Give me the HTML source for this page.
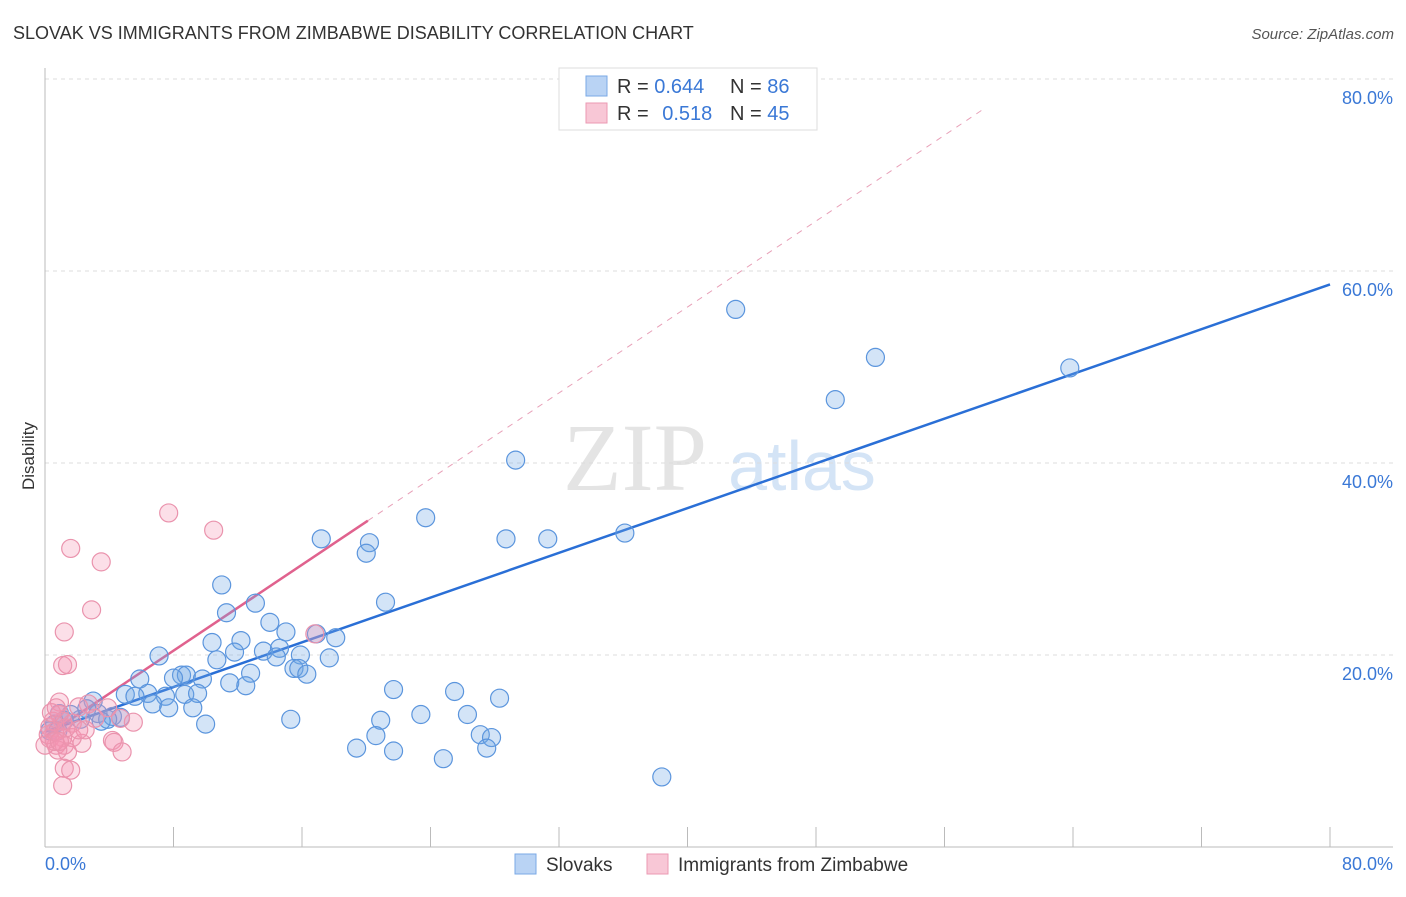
<!DOCTYPE html>
<html><head><meta charset="utf-8"><style>
body{margin:0;background:#fff;font-family:"Liberation Sans",sans-serif}
</style></head><body>
<svg id="chart" width="1406" height="892" xmlns="http://www.w3.org/2000/svg" font-family="Liberation Sans, sans-serif">
<text x="13" y="39" font-size="18" fill="#333">SLOVAK VS IMMIGRANTS FROM ZIMBABWE DISABILITY CORRELATION CHART</text>
<text x="1394" y="39" font-size="15" fill="#555" font-style="italic" text-anchor="end">Source: ZipAtlas.com</text>
<text transform="translate(34,456) rotate(-90)" font-size="17" fill="#333" text-anchor="middle">Disability</text>
<g><text x="635" y="490" font-size="96" fill="#e4e4e4" font-family="Liberation Serif, serif" text-anchor="middle">ZIP</text><text x="802" y="490" font-size="70" fill="#d4e4f6" text-anchor="middle">atlas</text></g>
<g id="grid"></g><g id="axes"></g><g id="lines"></g><g id="pts"></g>
<g>
<rect x="559" y="68" width="258" height="62" fill="#fff" stroke="#ddd"/>
<rect x="586" y="76" width="21" height="20" fill="#b9d3f4" stroke="#7aa8e6"/>
<rect x="586" y="103" width="21" height="20" fill="#f8c7d6" stroke="#eb9ab3"/>
<text x="617" y="93" font-size="20" fill="#333">R = <tspan fill="#3a78d6">0.644</tspan></text>
<text x="730" y="93" font-size="20" fill="#333">N = <tspan fill="#3a78d6">86</tspan></text>
<text x="617" y="120" font-size="20" fill="#333">R = <tspan fill="#3a78d6" dx="8">0.518</tspan></text>
<text x="730" y="120" font-size="20" fill="#333">N = <tspan fill="#3a78d6">45</tspan></text>
</g>
<g>
<rect x="515" y="854" width="21" height="20" fill="#b9d3f4" stroke="#7aa8e6"/>
<text x="546" y="871" font-size="19" fill="#333">Slovaks</text>
<rect x="647" y="854" width="21" height="20" fill="#f8c7d6" stroke="#eb9ab3"/>
<text x="678" y="871" font-size="19" fill="#333">Immigrants from Zimbabwe</text>
</g>
</svg>
<script>
const yTicks=[20,40,60,80];
const xTickLabels=["0.0%","80.0%"];
const blueX=[37.9,43.0,51.7,49.2,63.8,29.3,23.7,28.7,31.3,36.1,17.2,20.2,20.0,11.0,21.2,13.1,11.3,14.0,15.0,16.9,18.1,10.4,12.2,7.1,11.8,13.6,14.6,15.9,17.7,10.7,14.4,15.5,15.8,16.3,12.8,8.5,8.8,8.0,9.8,5.9,11.5,12.5,5.0,6.4,5.6,7.5,8.7,9.5,6.7,7.7,9.2,3.0,3.3,2.6,4.2,4.7,3.9,3.5,2.2,1.2,0.6,0.3,0.8,10.0,15.3,21.7,25.5,28.3,23.4,26.3,20.9,20.6,27.1,27.8,19.4,21.7,27.5,24.8,38.4,0.9,1.6];
const blueY=[78.1,56.0,51.0,46.6,49.9,40.3,34.3,32.1,32.1,32.7,32.1,31.7,30.6,27.3,25.5,25.4,24.4,23.4,22.4,22.2,21.8,21.3,21.5,19.9,20.3,20.4,20.7,20.0,19.7,19.5,19.8,18.6,18.6,18.0,18.1,17.9,17.9,17.6,17.5,17.5,17.1,16.8,15.9,16.0,15.7,15.7,15.9,16.0,14.9,14.5,14.5,15.2,13.9,14.4,13.6,13.5,13.3,13.1,13.3,13.2,12.8,12.1,12.1,12.8,13.3,16.4,16.2,15.5,13.8,13.8,13.2,11.6,11.7,11.4,10.3,10.0,10.3,9.2,7.3,13.9,13.8];
const pinkX=[7.7,10.5,1.6,3.5,2.9,1.2,1.1,1.4,0.9,2.7,2.1,0.9,1.1,1.7,0.5,0.3,0.6,1.1,0.3,0.7,1.2,2.3,1.7,4.2,4.3,4.8,1.4,1.2,1.6,1.1,5.5,2.5,3.1,4.7,0.4,0.7,0.2,0.8,1.3,0.6,2.1,0,0.9,3.9,16.8];
const pinkY=[34.8,33.0,31.1,29.7,24.7,22.4,18.9,19.0,15.1,14.9,14.6,13.8,13.1,12.9,13.1,12.5,12.0,11.4,11.3,10.6,10.6,10.8,11.4,11.1,10.9,9.9,9.9,8.2,8.0,6.4,13.0,12.2,13.4,13.4,14.0,14.5,11.7,10.1,12.4,11.0,12.2,10.6,11.0,14.5,22.2];
const blueFit=[12.0,58.6];
const pinkFit=[11.5,101.0];
const pinkSolidEnd=20.1;
const NS="http://www.w3.org/2000/svg";
const X=v=>45+v/80*1285, Y=v=>847-v*9.6;
function mk(p,t,a){const e=document.createElementNS(NS,t);for(const k in a)e.setAttribute(k,a[k]);p.appendChild(e);return e;}
const grid=document.getElementById('grid'),axes=document.getElementById('axes');
yTicks.forEach(t=>{
 const l=mk(grid,'line',{x1:45,x2:1393,y1:Y(t),y2:Y(t),stroke:'#ddd','stroke-dasharray':'4,4'});
 
 
 const tx=mk(grid,'text',{x:1393,y:Y(t)+25,'font-size':18,fill:'#3a78d6','text-anchor':'end'});tx.textContent=t.toFixed(1)+'%';
 
 
});
const ya=mk(axes,'line',{x1:45,x2:45,y1:68,y2:847,stroke:'#bbb'});


const xa=mk(axes,'line',{x1:45,x2:1393,y1:847,y2:847,stroke:'#bbb'});


for(let i=0;i<=10;i++){const t=mk(axes,'line',{x1:X(i*8),x2:X(i*8),y1:827,y2:847,stroke:'#bbb'});
 
 }
[[0,'start',45],[80,'end',1393]].forEach((d,i)=>{const t=mk(axes,'text',{x:d[2],y:870,'font-size':18,fill:'#3a78d6','text-anchor':d[1]});t.textContent=xTickLabels[i];
 
 });
const pts=document.getElementById('pts');
blueX.forEach((v,i)=>{const c=mk(pts,'circle',{cx:X(v),cy:Y(blueY[i]),r:9,fill:'rgba(110,165,230,0.3)',stroke:'#5b95dd','stroke-width':1.2});
 
 });
pinkX.forEach((v,i)=>{const c=mk(pts,'circle',{cx:X(v),cy:Y(pinkY[i]),r:9,fill:'rgba(245,150,180,0.3)',stroke:'#ea93ad','stroke-width':1.2});
 
 });
const lines=document.getElementById('lines');
const pf=v=>pinkFit[0]+(pinkFit[1]-pinkFit[0])*v/80;
const pd=mk(lines,'line',{x1:X(pinkSolidEnd),y1:Y(pf(pinkSolidEnd)),x2:X(58.6),y2:Y(pf(58.6)),stroke:'#e8a0b8','stroke-dasharray':'6,6'});


const bl=mk(lines,'line',{x1:X(0),y1:Y(blueFit[0]),x2:X(80),y2:Y(blueFit[1]),stroke:'#2a6fd6','stroke-width':2.5});


const pl=mk(lines,'line',{x1:X(0),y1:Y(pf(0)),x2:X(pinkSolidEnd),y2:Y(pf(pinkSolidEnd)),stroke:'#e0628e','stroke-width':2.5});


</script>
</body></html>
